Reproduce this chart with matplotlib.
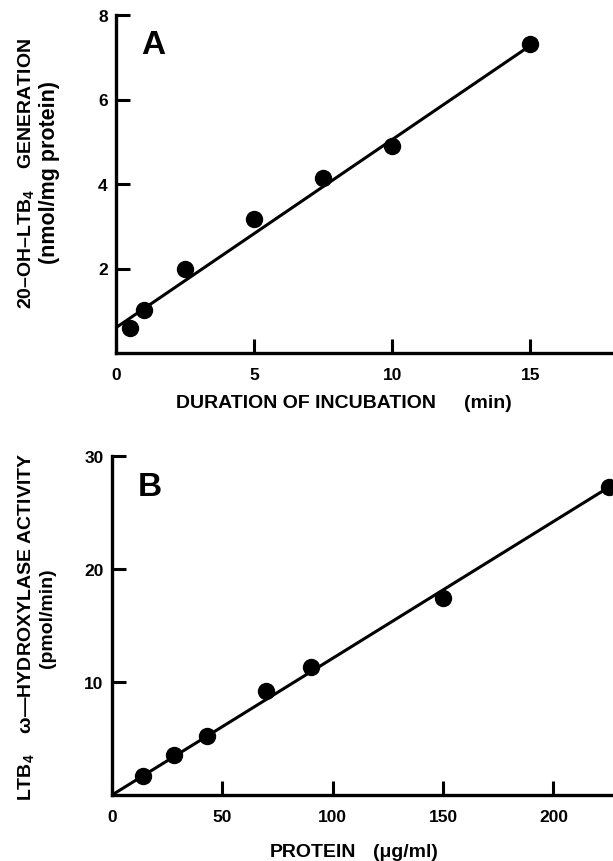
"""
Two-panel figure: 20-OH-LTB4 generation vs incubation time (A)
and LTB4 omega-hydroxylase activity vs protein concentration (B).
"""

import numpy as np
import matplotlib
matplotlib.use("Agg")
import matplotlib.pyplot as plt

NARROW = ["Liberation Sans Narrow", "Liberation Sans", "DejaVu Sans"]
WIDE = ["Liberation Sans", "DejaVu Sans"]

plt.rcParams["font.family"] = NARROW
plt.rcParams["font.weight"] = "bold"
plt.rcParams["mathtext.fontset"] = "custom"
plt.rcParams["mathtext.rm"] = "Liberation Sans:bold"
plt.rcParams["mathtext.bf"] = "Liberation Sans:bold"

# Panel A: time course
time_min = [0.5, 1.0, 2.5, 5.0, 7.5, 10.0, 15.0]
oh_ltb4 = [0.59, 1.02, 1.99, 3.17, 4.15, 4.89, 7.31]
fit_a_intercept = 0.60
fit_a_slope = 0.445
fit_a_x = [0.0, 15.0]

# Panel B: protein dependence
protein = [14, 28, 43, 70, 90, 150, 225]
activity = [1.7, 3.5, 5.2, 9.2, 11.3, 17.4, 27.3]
fit_b_slope = 0.121
fit_b_x = [0.0, 227.0]

W, H = 613, 862
fig = plt.figure(figsize=(W / 100, H / 100), dpi=100)


def px(x, y):
    # pixel position (from top-left) -> figure fraction
    return x / W, 1 - y / H


def style_axes(ax, xticks, yticks):
    for s in ("top", "right"):
        ax.spines[s].set_visible(False)
    for s in ("left", "bottom"):
        ax.spines[s].set_linewidth(2.4)
    ax.set_xticks(xticks)
    ax.set_yticks(yticks)
    ax.tick_params(axis="x", direction="in", length=10, width=2.2, pad=10)
    ax.tick_params(axis="y", direction="in", length=10, width=2.2, pad=6)
    for lab in ax.get_xticklabels() + ax.get_yticklabels():
        lab.set_fontweight("bold")
        lab.set_fontfamily(WIDE)
        lab.set_fontsize(12.5)


# ---- Panel A ----
l, b = px(116, 354)
_, t = px(0, 16)
ax_a = fig.add_axes([l, b, 1 - l, t - b])
ax_a.set_xlim(0, 18)
ax_a.set_ylim(0, 8)
xa = np.array(fit_a_x)
ax_a.plot(xa, fit_a_intercept + fit_a_slope * xa, color="black", lw=2.2)
ax_a.plot(time_min, oh_ltb4, "o", color="black", ms=11.5, clip_on=False)
style_axes(ax_a, [0, 5, 10, 15], [2, 4, 6, 8])
ax_a.text(0.074, 0.914, "A", transform=ax_a.transAxes, fontsize=24,
          fontweight="bold", family=WIDE, ha="center", va="center")

# ---- Panel B ----
l, b = px(112, 796)
_, t = px(0, 457)
ax_b = fig.add_axes([l, b, 1 - l, t - b])
ax_b.set_xlim(0, 227)
ax_b.set_ylim(0, 30)
xb = np.array(fit_b_x)
ax_b.plot(xb, fit_b_slope * xb, color="black", lw=2.2)
ax_b.plot(protein, activity, "o", color="black", ms=11.5, clip_on=False)
style_axes(ax_b, [0, 50, 100, 150, 200], [10, 20, 30])
ax_b.text(0.076, 0.909, "B", transform=ax_b.transAxes, fontsize=24,
          fontweight="bold", family=WIDE, ha="center", va="center")

# ---- axis titles ----
lab_kw = dict(fontsize=14, fontweight="bold", ha="center", va="center")

fig.text(*px(306, 404), "DURATION OF INCUBATION", **lab_kw)
fig.text(*px(488, 404), "(min)", **lab_kw)
fig.text(*px(313, 853), "PROTEIN", **lab_kw)
fig.text(*px(405, 853), "(\u03bcg/ml)", **lab_kw)

fig.text(*px(27, 173), "20\u2013OH\u2013LTB$_4$    GENERATION", rotation=90, **lab_kw)
fig.text(*px(50, 172), "(nmol/mg protein)", rotation=90,
         **{**lab_kw, "fontsize": 15.5})
fig.text(*px(27, 627), "LTB$_4$    \u03c9\u2014HYDROXYLASE ACTIVITY", rotation=90, **lab_kw)
fig.text(*px(48, 618), "(pmol/min)", rotation=90, **lab_kw)

fig.savefig("out.png", dpi=100)
